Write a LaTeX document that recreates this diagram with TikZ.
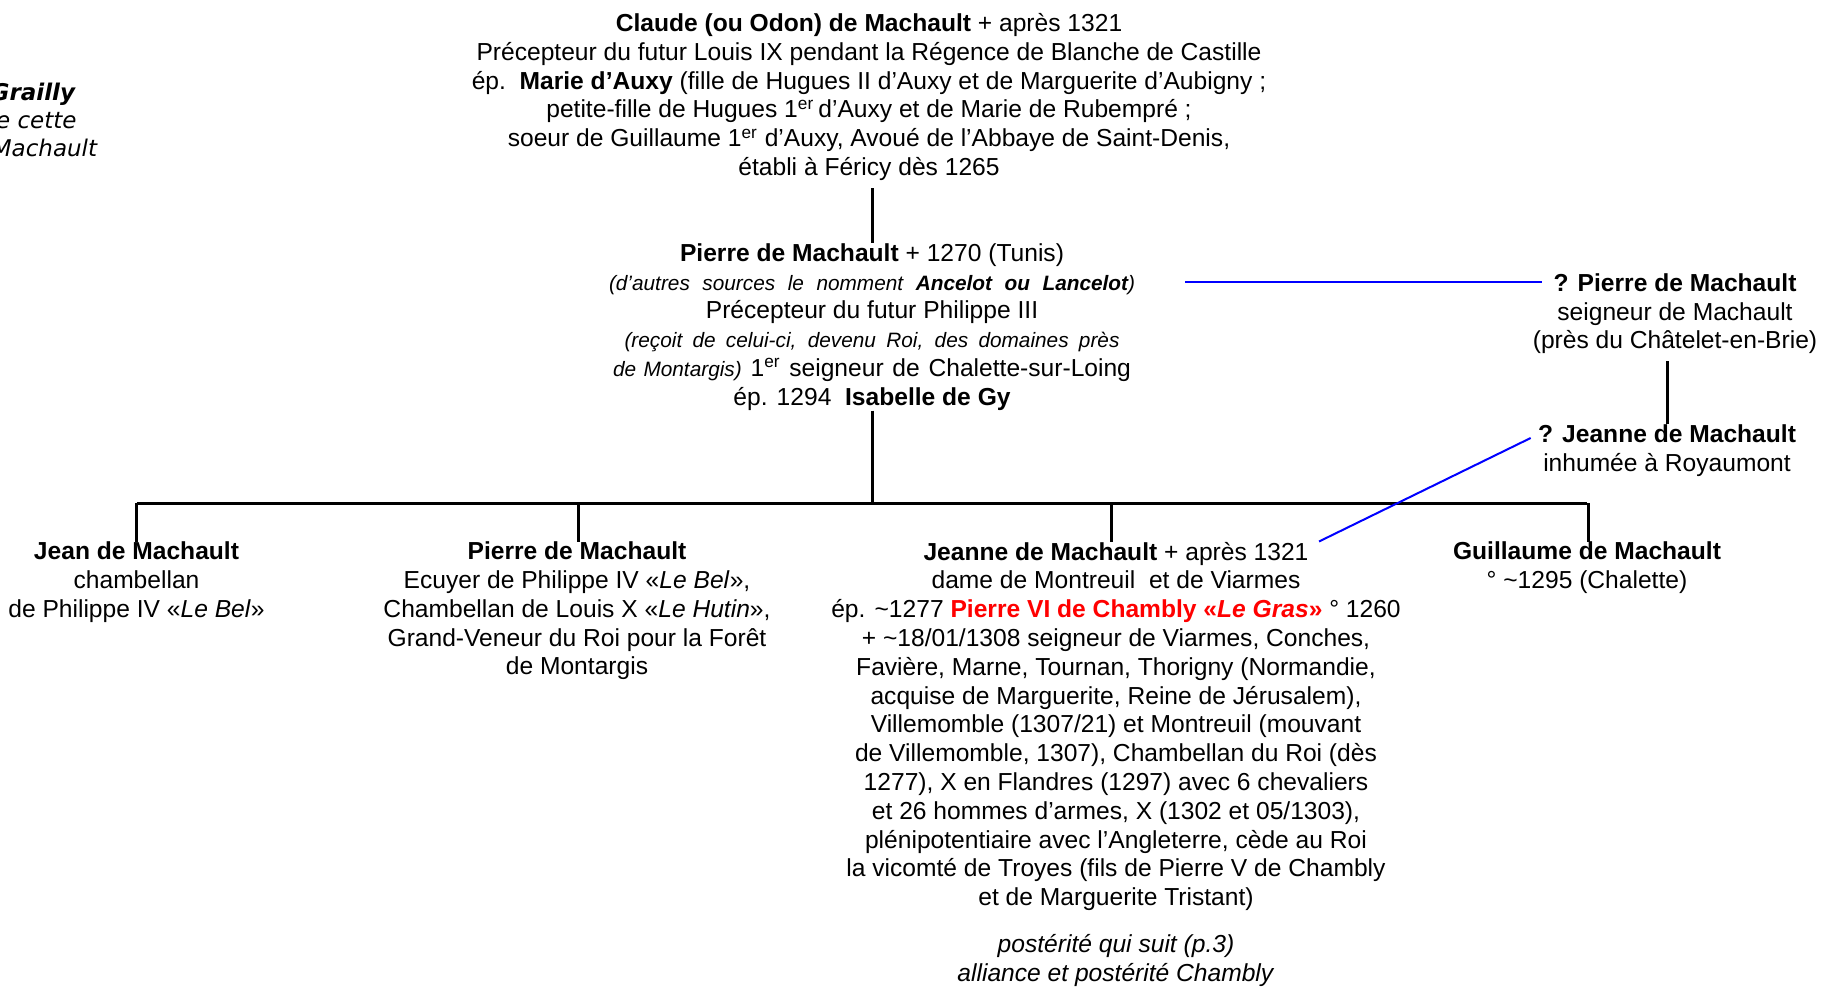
\documentclass[tikz,border=0pt]{standalone}
\usepackage{fontspec}
\setmainfont{Liberation Sans}
\newfontfamily\verdana{DejaVu Sans}
\usetikzlibrary{calc}

\newcommand{\petit}{\fontsize{10.4}{14.4}\selectfont\itshape}

\begin{document}
\begin{tikzpicture}[x=0.5pt,y=-0.5pt,
		person/.style={align=center,inner sep=0pt,anchor=north,font={\fontsize{12.3}{14.4}\selectfont}},
		tie/.style={line width=1.5pt},
		link/.style={blue,line width=1pt}]
		\useasboundingbox (0,0) rectangle (1821,987);
		\node [person,anchor=north east,align=right,font={\verdana\fontsize{11.5}{13.9}\selectfont\itshape}] (grailly) at (97.5,83) {\textbf{Grailly}\kern11pt\\e cette\kern10.25pt\\Machault};
		\node [person] (claude) at (869,13) {\textbf{Claude (ou Odon) de Machault} + après 1321\\
			Précepteur du futur Louis IX pendant la Régence de Blanche de Castille\\
			ép.\ \ \textbf{Marie d’Auxy} (fille de Hugues II d’Auxy et de Marguerite d’Aubigny ;\\
			petite-fille de Hugues 1\textsuperscript{er}\,d’Auxy et de Marie de Rubempré ;\\
			soeur de Guillaume 1\textsuperscript{er} d’Auxy, Avoué de l’Abbaye de Saint-Denis,\\
			établi à Féricy dès 1265};
		\node [person] (pierre) at (872,243) {\textbf{Pierre de Machault} + 1270 (Tunis)\\
			\makebox[263pt][s]{\petit (d’autres sources le nomment \textbf{Ancelot ou Lancelot})}\\
			Précepteur du futur Philippe III\\
			\makebox[247.5pt][s]{\petit (reçoit de celui-ci, devenu Roi, des domaines près}\\
			\makebox[259pt][s]{{\petit de Montargis)} 1\textsuperscript{er} seigneur de Chalette-sur-Loing}\\
			ép. 1294\ \ \textbf{Isabelle de Gy}};
		\node [person] (qpierre) at (1675,273) {\textbf{? Pierre de Machault}\\
			seigneur de Machault\\
			(près du Châtelet-en-Brie)};
		\node [person] (qjeanne) at (1667,424) {\textbf{? Jeanne de Machault}\\
			inhumée à Royaumont};
		\node [person] (jean) at (136.5,541.5) {\textbf{Jean de Machault}\\
			chambellan\\
			de Philippe IV «\textit{Le Bel}»};
		\node [person] (pierrejr) at (577,541.5) {\textbf{Pierre de Machault}\\
			Ecuyer de Philippe IV «\textit{Le Bel}»,\\
			Chambellan de Louis X «\textit{Le Hutin}»,\\
			Grand-Veneur du Roi pour la Forêt\\
			de Montargis};
		\node [person] (jeanne) at (1116,541.5) {\textbf{Jeanne de Machault} + après 1321\\
			dame de Montreuil\ \ et de Viarmes\\
			ép. \textasciitilde1277 \textcolor{red}{\textbf{Pierre VI de Chambly «\textit{Le Gras}»}} ° 1260\\
			+ \textasciitilde18/01/1308 seigneur de Viarmes, Conches,\\
			Favière, Marne, Tournan, Thorigny (Normandie,\\
			acquise de Marguerite, Reine de Jérusalem),\\
			Villemomble (1307/21) et Montreuil (mouvant\\
			de Villemomble, 1307), Chambellan du Roi (dès\\
			1277), X en Flandres (1297) avec 6 chevaliers\\
			et 26 hommes d’armes, X (1302 et 05/1303),\\
			plénipotentiaire avec l’Angleterre, cède au Roi\\
			la vicomté de Troyes (fils de Pierre V de Chambly\\
			et de Marguerite Tristant)\\[9.2pt]
			\textit{postérité qui suit (p.3)}\\
			\textit{alliance et postérité Chambly}};
		\node [person] (guillaume) at (1587,541.5) {\textbf{Guillaume de Machault}\\
			° \textasciitilde1295 (Chalette)};
		\coordinate (bar) at (873,503);
		\draw [tie] ([yshift=-3.5pt]pierre.north |- claude.south) -- (pierre.north);
		\draw [tie] (pierre.south) -- (pierre.south |- bar);
		\draw [tie] (jean.north |- bar) -- (guillaume.north |- bar);
		\foreach \n/\dx in {jean/0,pierrejr/1,jeanne/-5,guillaume/1}
			\draw [tie] ($(\n.north |- bar)+(\dx,0)$) -- ($(\n.north)+(\dx,0)$);
		\draw [tie] ([yshift=-3.5pt]qjeanne.north |- qpierre.south) -- (qjeanne.north);
		\draw [link] ($(pierre.north east)+(50,39)$) -- ($(qpierre.north west)+(10,9)$);
		\draw [link] ($(jeanne.north)+(203,0)$) -- ($(qjeanne.north west)+(-7,14)$);
	\end{tikzpicture}
\end{document}
